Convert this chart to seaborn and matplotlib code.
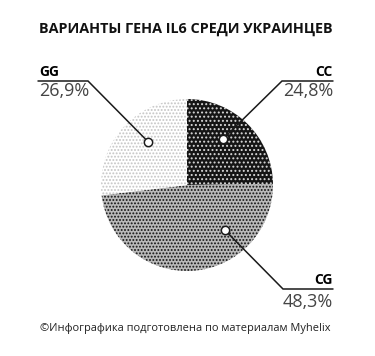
import numpy as np
import seaborn as sns
import matplotlib.pyplot as plt

sns.set_theme(style="white")
plt.rcParams['font.family'] = ['Open Sans', 'DejaVu Sans']
plt.rcParams['hatch.linewidth'] = 0.9

# data
genotypes = ["CC", "CG", "GG"]
shares = [24.8, 48.3, 26.9]
share_labels = ["24,8%", "48,3%", "26,9%"]

title = "ВАРИАНТЫ ГЕНА IL6 СРЕДИ УКРАИНЦЕВ"
footer = "©Инфографика подготовлена по материалам Myhelix"

# styles (face, hatch colour, hatch)
faces = ["#151515", "#b9b9b9", "white"]
hatch_cols = ["#d8d8d8", "#111111", "#c4c4c4"]
hatches = ["....", ".....", "....."]

fig = plt.figure(figsize=(3.75, 3.56), dpi=100)
ax = fig.add_axes([0, 0, 1, 1])

cx, cy, r = 187, 185, 86
# y axis is inverted below, so counterclock in data == clockwise on screen
wedges, _ = ax.pie(shares, startangle=-90, counterclock=True,
                   center=(cx, cy), radius=r, colors=faces,
                   wedgeprops=dict(linewidth=0))
for w, hc, h in zip(wedges, hatch_cols, hatches):
    w.set_edgecolor(hc)
    w.set_hatch(h)
    w.set_linewidth(0)

ax.set_xlim(0, 375)
ax.set_ylim(356, 0)
ax.set_aspect('auto')
ax.axis('off')

# callouts: marker angle on screen (deg), elbow, label side
marker_ang = {"CC": 52, "CG": -50, "GG": 132}
elbow = {"CC": (282, 81, 333), "CG": (283, 289, 333), "GG": (88, 81, 38)}

for g, lab in zip(genotypes, share_labels):
    a = np.deg2rad(marker_ang[g])
    mx, my = cx + 0.68 * r * np.cos(a), cy - 0.68 * r * np.sin(a)
    ex, ey, endx = elbow[g]
    ax.plot([mx, ex, endx], [my, ey, ey], color="#1a1a1a", lw=1.1,
            solid_joinstyle='miter', zorder=5)
    ax.plot([mx], [my], marker='o', ms=6, mfc='white', mec='#1a1a1a',
            mew=1.1, zorder=6)
    ha = "left" if endx < ex else "right"
    tx = min(ex, endx) + 1 if ha == "left" else max(ex, endx)
    if g == "CG":
        ax.text(tx, 284, g, ha=ha, va='baseline', fontsize=10,
                fontweight='bold', color='black')
        ax.text(tx, 307, lab, ha=ha, va='baseline', fontsize=13,
                color='#444444')
    else:
        ax.text(tx, 76, g, ha=ha, va='baseline', fontsize=10,
                fontweight='bold', color='black')
        ax.text(tx, 96, lab, ha=ha, va='baseline', fontsize=13,
                color='#444444')

ax.text(186, 29, title, ha='center', va='center', fontsize=10.4,
        fontweight='bold', color='#111111')
ax.text(185, 329, footer, ha='center', va='center', fontsize=7.9,
        color='#222222')

fig.savefig("out.png", dpi=100)
